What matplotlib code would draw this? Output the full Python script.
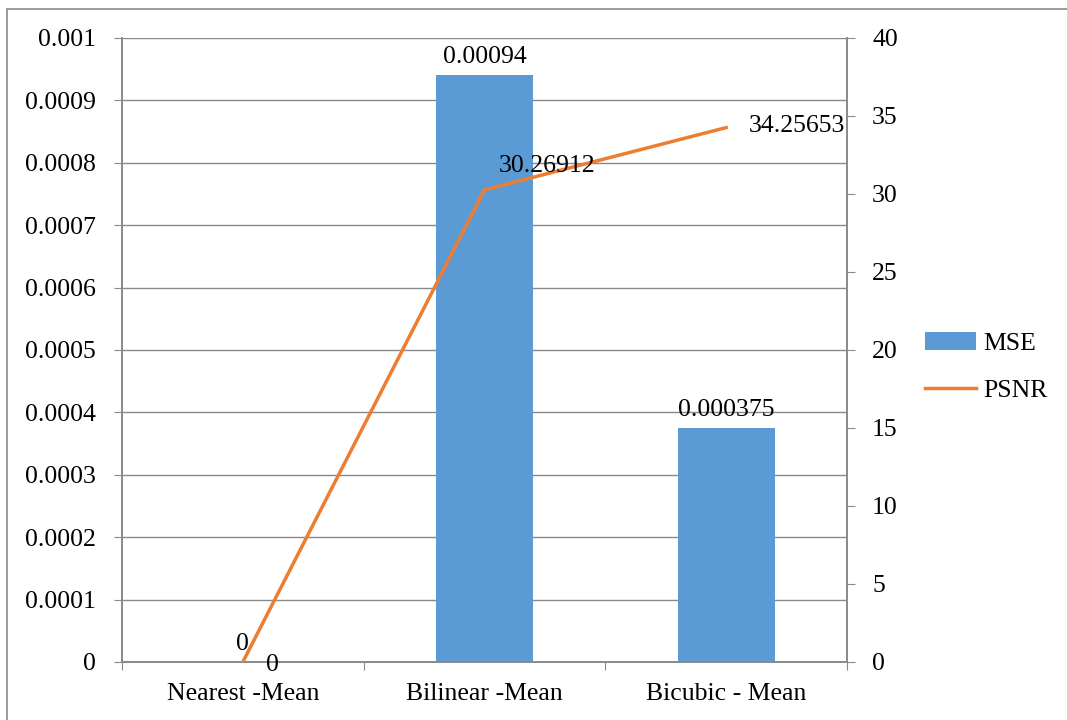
import matplotlib.pyplot as plt
from matplotlib.patches import Rectangle
import numpy as np

categories = ["Nearest -Mean", "Bilinear -Mean", "Bicubic - Mean"]
mse = [0, 0.00094, 0.000375]
psnr = [0, 30.26912, 34.25653]
mse_labels = ["0", "0.00094", "0.000375"]
psnr_labels = ["0", "30.26912", "34.25653"]
# label offsets in points for the PSNR data labels
psnr_offsets = [(17, -2), (10, 17), (16, 1)]

plt.rcParams["font.family"] = ["Liberation Serif", "DejaVu Serif"]
plt.rcParams["font.size"] = 18.5

blue = "#5b9bd5"
orange = "#ed7d31"
gray = "#898989"

fig = plt.figure(figsize=(10.67, 7.2), dpi=100)
# outer chart border
fig.patches.append(Rectangle((7 / 1067, -0.01), 1.1, 1 - 9 / 720 + 0.01, transform=fig.transFigure,
                             fill=False, edgecolor=gray, linewidth=1.2))
ax = fig.add_axes([122 / 1067, 1 - 662 / 720, 725 / 1067, 624 / 720])
ax2 = ax.twinx()

x = np.arange(len(categories))
ax.bar(x, mse, width=0.4, color=blue, label="MSE", zorder=2)
ax.set_xlim(-0.5, 2.5)
ax.set_ylim(0, 0.001)
ax.set_yticks(np.arange(0, 0.00101, 0.0001))
ax.set_yticklabels(["0"] + ["%g" % v for v in np.round(np.arange(0.0001, 0.00101, 0.0001), 4)])
ax.yaxis.grid(True, color=gray, linewidth=1)
ax.set_axisbelow(True)
ax.set_xticks([-0.5, 0.5, 1.5, 2.5], minor=False)
ax.set_xticklabels([])
ax.set_xticks(x, minor=True)
ax.set_xticklabels(categories, minor=True)
ax.tick_params(axis="x", which="minor", length=0, pad=15)
ax.tick_params(axis="x", which="major", length=6, color=gray)
ax.tick_params(axis="y", length=6, color=gray, pad=13)

for i, v in enumerate(mse):
    ax.annotate(mse_labels[i], (x[i], v), xytext=(0, 5), textcoords="offset points",
                ha="center", va="bottom")

ax2.plot(x, psnr, color=orange, linewidth=2.5, label="PSNR", zorder=3)
ax2.set_ylim(0, 40)
ax2.set_yticks(range(0, 41, 5))
ax2.tick_params(axis="y", length=6, color=gray, pad=12)
for i, v in enumerate(psnr):
    ax2.annotate(psnr_labels[i], (x[i], v), xytext=psnr_offsets[i], textcoords="offset points",
                 ha="left", va="center")

for a in (ax, ax2):
    a.spines["top"].set_visible(False)
    for s in ("left", "bottom", "right"):
        a.spines[s].set_color(gray)
        a.spines[s].set_linewidth(1.2)

h1, l1 = ax.get_legend_handles_labels()
h2, l2 = ax2.get_legend_handles_labels()
fig.legend(h1 + h2, l1 + l2, loc="center left", bbox_to_anchor=(925 / 1067, 1 - 367 / 720),
           frameon=False, borderpad=0, borderaxespad=0, handlelength=2.0, handletextpad=0.25,
           labelspacing=0.95, fontsize=18.5)

fig.savefig("out.png", dpi=100)
